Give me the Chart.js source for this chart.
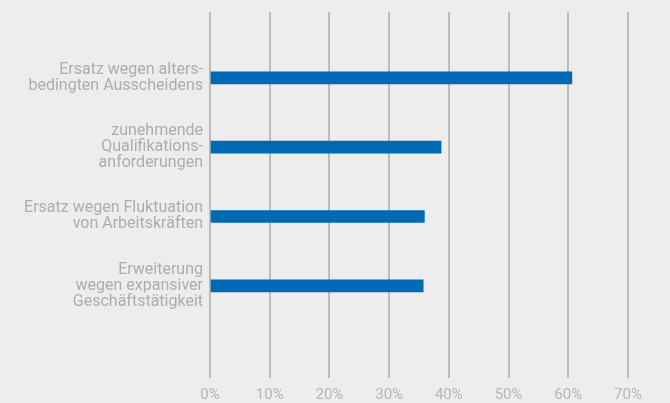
<!DOCTYPE html>
<html>
<head>
<meta charset="utf-8">
<script src="https://cdn.jsdelivr.net/npm/chart.js@4"></script>
<style>
html,body{margin:0;padding:0;background:#ededed;}
canvas{display:block;}
</style>
</head>
<body>
<canvas id="c" width="670" height="403"></canvas>
<script>
const categories = [
  ["Ersatz wegen alters-", "bedingten Ausscheidens"],
  ["zunehmende", "Qualifikations-", "anforderungen"],
  ["Ersatz wegen Fluktuation", "von Arbeitskräften"],
  ["Erweiterung", "wegen expansiver", "Geschäftstätigkeit"]
];
const values = [60.6, 38.7, 35.9, 35.7];
const xTicks = [0, 10, 20, 30, 40, 50, 60, 70];

const fontFamily = 'Roboto, "Liberation Sans", sans-serif';

new Chart(document.getElementById('c'), {
  type: 'bar',
  data: {
    datasets: [{
      data: values.map((v, i) => ({ x: v, y: i + 1 })),
      backgroundColor: '#0069b4',
      barThickness: 12,
      borderWidth: 0
    }]
  },
  options: {
    indexAxis: 'y',
    responsive: false,
    animation: false,
    plugins: { legend: { display: false }, tooltip: { enabled: false } },
    layout: { padding: { top: 12, right: 42, bottom: 0, left: 0 } },
    scales: {
      x: {
        type: 'linear',
        min: xTicks[0],
        max: xTicks[xTicks.length - 1],
        afterBuildTicks: s => { s.ticks = xTicks.map(v => ({ value: v })); },
        afterFit: s => { s.height = 25; },
        ticks: {
          callback: v => v + '%',
          color: '#b6b6b6',
          font: { family: fontFamily, size: 15 },
          padding: 8,
          maxRotation: 0
        },
        grid: { color: '#bcbcbc', lineWidth: 2, drawTicks: false, tickLength: 0 },
        border: { display: false }
      },
      y: {
        type: 'linear',
        reverse: true,
        offset: false,
        min: 0.05,
        max: 5.33,
        afterBuildTicks: s => { s.ticks = categories.map((_, i) => ({ value: i + 1 })); },
        afterFit: s => { s.width = 210; s.paddingTop = 0; s.paddingBottom = 0; },
        ticks: {
          callback: v => categories[v - 1] || '',
          color: '#adadad',
          font: { family: fontFamily, size: 16, lineHeight: 1.0 },
          padding: 7,
          autoSkip: false
        },
        grid: { display: false, drawTicks: false, tickLength: 0 },
        border: { display: false }
      }
    }
  }
});
</script>
</body>
</html>
